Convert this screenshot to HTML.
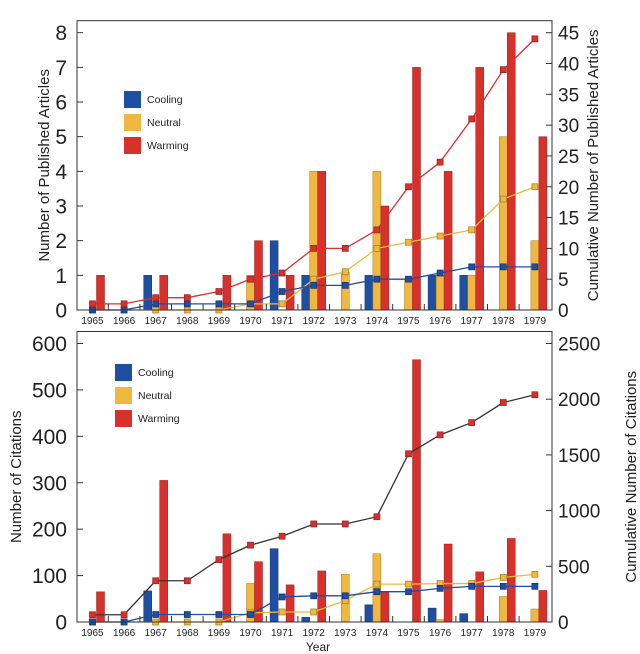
<!DOCTYPE html>
<html><head><meta charset="utf-8"><style>
html,body{margin:0;padding:0;background:#fff;}
svg{display:block;font-family:"Liberation Sans",sans-serif;}
</style></head><body>
<svg id="s" width="640" height="654" xmlns="http://www.w3.org/2000/svg"></svg>
<script>
const s=document.getElementById('s');let h='';
const X0=92.5,DX=31.6;const xs=i=>X0+i*DX;
const C={c:'#1f4fa0',n:'#f0b840',w:'#d8312c'},E={c:'#123070',n:'#a07a20',w:'#902020'};
function chart(top,bot,lmax,lticks,rmax,rticks,bars,cums,ltitle,rtitle,leg){
 const L=77,R=552,T=top-12;const ly=v=>bot-v/lmax*(bot-top),ry=v=>bot-v/rmax*(bot-top);
 bars.forEach((b,i)=>{const cx=xs(i);[['c',-12],['n',-4],['w',4]].forEach(([k,o])=>{const v=b[k];if(v>0){const y=ly(v);h+=`<rect x="${cx+o}" y="${y}" width="8" height="${bot-y}" fill="${C[k]}" stroke="${E[k]}" stroke-width="0.5"/>`;}});});
 cums.forEach(([k,arr,lc])=>{let p=arr.map((v,i)=>`${xs(i)},${ry(v)}`).join(' ');h+=`<polyline points="${p}" fill="none" stroke="${lc}" stroke-width="1.3"/>`;arr.forEach((v,i)=>{h+=`<rect x="${xs(i)-3}" y="${ry(v)-3}" width="6" height="6" fill="${C[k]}" stroke="${E[k]}" stroke-width="0.7"/>`;});});
 h+=`<rect x="${L}" y="${T}" width="${R-L}" height="${bot-T}" fill="none" stroke="#333" stroke-width="1"/>`;
 lticks.forEach(v=>{const y=ly(v);h+=`<line x1="${L}" x2="${L+6}" y1="${y}" y2="${y}" stroke="#333"/><text x="${L-10}" y="${y+7.5}" font-size="21" text-anchor="end" fill="#222">${v}</text>`;});
 rticks.forEach(v=>{const y=ry(v);h+=`<line x1="${R-6}" x2="${R}" y1="${y}" y2="${y}" stroke="#333"/><text x="${R+6}" y="${y+7}" font-size="19" fill="#222">${v}</text>`;});
 for(let i=0;i<15;i++){const tx=xs(i)+DX/2;if(i<14)h+=`<line x1="${tx}" x2="${tx}" y1="${bot}" y2="${bot-6}" stroke="#333"/>`;h+=`<text x="${xs(i)}" y="${bot+14}" font-size="10" text-anchor="middle" fill="#222">${1965+i}</text>`;}
 h+=`<text transform="translate(${ltitle[1]},${(T+bot)/2}) rotate(-90)" font-size="15" text-anchor="middle" fill="#222">${ltitle[0]}</text>`;
 h+=`<text transform="translate(${rtitle[1]},${(T+bot)/2}) rotate(-90)" font-size="15" text-anchor="middle" fill="#222">${rtitle[0]}</text>`;
 [['c','Cooling'],['n','Neutral'],['w','Warming']].forEach(([k,t],j)=>{const y=leg[1]+j*23;h+=`<rect x="${leg[0]}" y="${y}" width="17" height="17" fill="${C[k]}"/><text x="${leg[0]+23}" y="${y+12}" font-size="10.5" fill="#222">${t}</text>`;});
}
const b1=[{w:1},{},{c:1,w:1},{},{w:1},{n:1,w:2},{c:2,w:1},{c:1,n:4,w:4},{n:1.1},{c:1,n:4,w:3},{n:0.9,w:7},{c:1,n:1,w:4},{c:1,n:1,w:7},{n:5,w:8},{n:2,w:5}];
chart(32.7,310,8,[0,1,2,3,4,5,6,7,8],45,[0,5,10,15,20,25,30,35,40,45],b1,[
 ['n',[0,0,0,0,0,1,1,5,6.2,10,11,12,13,18,20],'#f0b840'],
 ['c',[0,0,1,1,1,1,3,4,4,5,5,6,7,7,7],'#1f4fa0'],
 ['w',[1,1,2,2,3,5,6,10,10,13,20,24,31,39,44],'#d8312c']],
 ['Number of Published Articles',49],['Cumulative Number of Published Articles',598],[124,91]);
const b2=[{w:65},{},{c:67,w:305},{},{w:190},{n:83,w:130},{c:158,w:80},{c:10,w:110},{n:103},{c:37,n:147,w:65},{w:565},{c:30,n:5,w:168},{c:18,w:108},{n:55,w:180},{n:28,w:68}];
chart(343.5,622,600,[0,100,200,300,400,500,600],2500,[0,500,1000,1500,2000,2500],b2,[
 ['n',[0,0,0,0,0,83,90,90,193,340,340,345,345,400,428],'#f0b840'],
 ['c',[0,0,67,67,67,67,225,235,235,272,272,302,320,320,320],'#1f4fa0'],
 ['w',[65,65,370,370,560,690,770,880,880,945,1510,1680,1790,1970,2040],'#333']],
 ['Number of Citations',21],['Cumulative Number of Citations',636],[115,364]);
h+=`<text x="318" y="651" font-size="12" text-anchor="middle" fill="#222">Year</text>`;
s.innerHTML=h;
</script>
</body></html>
